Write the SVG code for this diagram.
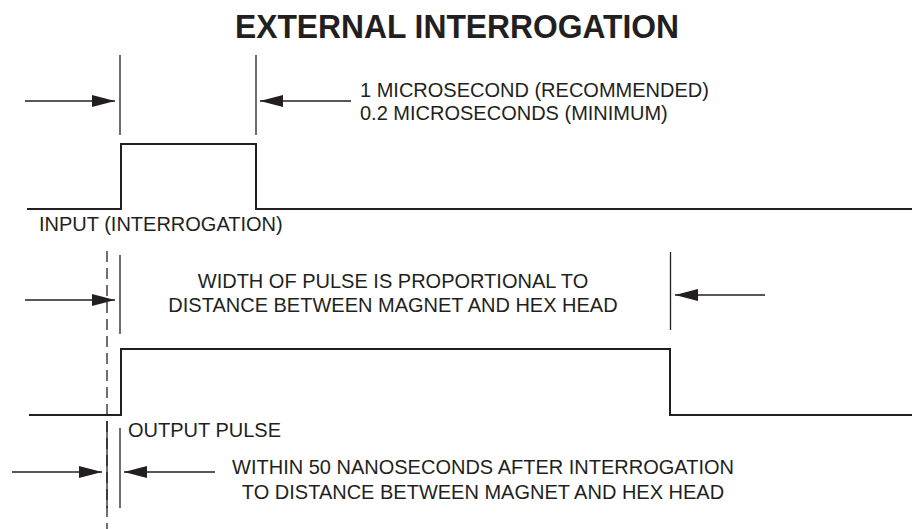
<svg xmlns="http://www.w3.org/2000/svg" width="912" height="529" viewBox="0 0 912 529">
  <style>
    .bg { fill: #ffffff; }
    .sig { fill: none; stroke: #231f20; stroke-width: 2; }
    .mark { fill: none; stroke: #231f20; stroke-width: 1.3; }
    .dash { fill: none; stroke: #231f20; stroke-width: 1.3; stroke-dasharray: 11 6; }
    .arr { fill: none; stroke: #231f20; stroke-width: 1.3; marker-end: url(#ah); }
    .t { font-family: "Liberation Sans", Arial, sans-serif; font-size: 20px; fill: #231f20; }
    .title { font-family: "Liberation Sans", Arial, sans-serif; font-size: 34px; font-weight: bold; fill: #231f20; }
  </style>
  <defs>
    <marker id="ah" markerUnits="userSpaceOnUse" markerWidth="23" markerHeight="12" refX="23" refY="6" orient="auto">
      <path d="M0,0 L23,6 L0,12 Z" fill="#231f20"/>
    </marker>
  </defs>
  <rect class="bg" x="0" y="0" width="912" height="529"/>

  <g id="title">
    <text class="title" x="457" y="38" text-anchor="middle" textLength="444" lengthAdjust="spacingAndGlyphs">EXTERNAL INTERROGATION</text>
  </g>

  <g id="input-signal">
    <path class="sig" d="M27,209 H121 V144 H256 V209 H912"/>
    <text class="t" x="39" y="231">INPUT (INTERROGATION)</text>
  </g>

  <g id="input-width-label">
    <text class="t" x="360" y="97">1 MICROSECOND (RECOMMENDED)</text>
    <text class="t" x="360" y="120">0.2 MICROSECONDS (MINIMUM)</text>
  </g>

  <g id="output-signal">
    <path class="sig" d="M29,415 H121 V349 H670 V415 H912"/>
    <text class="t" x="128" y="437">OUTPUT PULSE</text>
  </g>

  <g id="output-width-label">
    <text class="t" x="393" y="288" text-anchor="middle">WIDTH OF PULSE IS PROPORTIONAL TO</text>
    <text class="t" x="393" y="312" text-anchor="middle">DISTANCE BETWEEN MAGNET AND HEX HEAD</text>
  </g>

  <g id="delay-label">
    <text class="t" x="483" y="474" text-anchor="middle">WITHIN 50 NANOSECONDS AFTER INTERROGATION</text>
    <text class="t" x="483" y="499" text-anchor="middle">TO DISTANCE BETWEEN MAGNET AND HEX HEAD</text>
  </g>

  <g id="connectors">
    <line class="mark" x1="120" y1="55" x2="120" y2="135"/>
    <line class="mark" x1="256" y1="55" x2="256" y2="135"/>
    <line class="mark" x1="120" y1="255" x2="120" y2="334"/>
    <line class="mark" x1="670.5" y1="252" x2="670.5" y2="330"/>
    <line class="mark" x1="120" y1="428" x2="120" y2="508"/>
    <line class="mark" x1="107" y1="421" x2="107" y2="508"/>
    <line class="dash" x1="107" y1="251" x2="107" y2="529"/>
    <line class="arr" x1="25" y1="101" x2="115" y2="101"/>
    <line class="arr" x1="351" y1="101" x2="260" y2="101"/>
    <line class="arr" x1="25" y1="300" x2="115" y2="300"/>
    <line class="arr" x1="765" y1="295" x2="675" y2="295"/>
    <line class="arr" x1="12" y1="472" x2="102" y2="472"/>
    <line class="arr" x1="215" y1="472" x2="124" y2="472"/>
  </g>
</svg>
